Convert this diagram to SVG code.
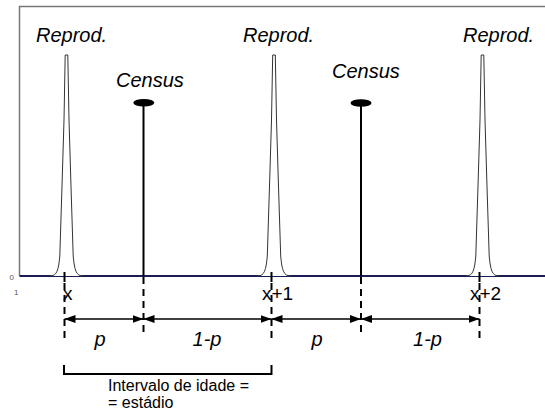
<svg xmlns="http://www.w3.org/2000/svg" width="545" height="412" viewBox="0 0 545 412">
<defs>
<style>
.lbl{font-family:"Liberation Sans",Arial,sans-serif;fill:#000}
.it{font-style:italic;font-size:20px}
.tick{font-size:19px}
.sm{font-size:8px;fill:#555}
.peak{fill:#fff;stroke:#333;stroke-width:1}
.dash{stroke:#000;stroke-width:2;stroke-dasharray:7 5;fill:none}
.arr{stroke:#000;stroke-width:1.5;fill:none;marker-start:url(#ah);marker-end:url(#ah)}
.cline{stroke:#000;stroke-width:2}
</style>
<marker id="ah" viewBox="0 0 11 8" refX="11" refY="4" markerWidth="11" markerHeight="8" markerUnits="userSpaceOnUse" orient="auto-start-reverse">
<path d="M0,0 L11,4 L0,8 z" fill="#000"/>
</marker>
</defs>
<rect width="545" height="412" fill="#fff"/>
<g id="frame">
<path d="M19.5,276 V6.5 H545" stroke="#777" stroke-width="1.5" fill="none"/>
<line x1="19.5" y1="276" x2="545" y2="276" stroke="#1c1c55" stroke-width="2"/>
<text class="lbl sm" x="9.5" y="280">0</text>
<text class="lbl sm" x="14" y="295">1</text>
</g>
<g id="peak1">
<path class="peak" d="M50,276 C57,276 58.5,270 59.8,256 L62.2,180 L64,120 L65.2,55 L67.8,55 L69,120 L70.8,180 L73.2,256 C74.5,270 76,276 83,276"/>
<line x1="64.5" y1="272" x2="64.5" y2="282" stroke="#000" stroke-width="2"/>
<text class="lbl it" x="36" y="42">Reprod.</text>
<text class="lbl tick" x="63" y="300">x</text>
</g>
<g id="peak2">
<path class="peak" d="M257.5,276 C264.5,276 266,270 267.3,256 L269.7,180 L271.5,120 L272.7,55 L275.3,55 L276.5,120 L278.3,180 L280.7,256 C282,270 283.5,276 290.5,276"/>
<line x1="271.5" y1="272" x2="271.5" y2="282" stroke="#000" stroke-width="2"/>
<text class="lbl it" x="243" y="42">Reprod.</text>
<text class="lbl tick" x="262" y="300">x+1</text>
</g>
<g id="peak3">
<path class="peak" d="M466,276 C473,276 474.5,270 475.8,256 L478.2,180 L480,120 L481.2,55 L483.8,55 L485,120 L486.8,180 L489.2,256 C490.5,270 492,276 499,276"/>
<line x1="479.5" y1="272" x2="479.5" y2="282" stroke="#000" stroke-width="2"/>
<text class="lbl it" x="463" y="42">Reprod.</text>
<text class="lbl tick" x="470" y="300">x+2</text>
</g>
<g id="census1">
<line class="cline" x1="143.5" y1="103" x2="143.5" y2="276"/>
<ellipse cx="143.8" cy="102.8" rx="10.5" ry="3.8" fill="#000"/>
<text class="lbl it" x="116" y="87">Census</text>
</g>
<g id="census2">
<line class="cline" x1="361" y1="103" x2="361" y2="276"/>
<ellipse cx="361" cy="103" rx="10.5" ry="3.8" fill="#000"/>
<text class="lbl it" x="332" y="78">Census</text>
</g>
<g id="connectors">
<line class="dash" x1="64.5" y1="283" x2="64.5" y2="339"/>
<line class="dash" x1="143.5" y1="277" x2="143.5" y2="337"/>
<line class="dash" x1="271.5" y1="283" x2="271.5" y2="339"/>
<line class="dash" x1="361" y1="277" x2="361" y2="337"/>
<line class="dash" x1="479.5" y1="283" x2="479.5" y2="339"/>
<line class="arr" x1="64.5" y1="319" x2="143.5" y2="319"/>
<line class="arr" x1="143.5" y1="319" x2="271.5" y2="319"/>
<line class="arr" x1="271.5" y1="319" x2="361" y2="319"/>
<line class="arr" x1="361" y1="319" x2="479.5" y2="319"/>
<path d="M64,365 V374 H271.5 V365" stroke="#000" stroke-width="2" fill="none"/>
</g>
<g id="labels">
<text class="lbl it" x="100" y="346" text-anchor="middle" font-size="19">p</text>
<text class="lbl it" x="207" y="346" text-anchor="middle" font-size="19">1-p</text>
<text class="lbl it" x="317" y="346" text-anchor="middle" font-size="19">p</text>
<text class="lbl it" x="427.5" y="346" text-anchor="middle" font-size="19">1-p</text>
<text class="lbl" x="108" y="391" font-size="16">Intervalo de idade =</text>
<text class="lbl" x="108" y="408" font-size="16">= estádio</text>
</g>
</svg>
